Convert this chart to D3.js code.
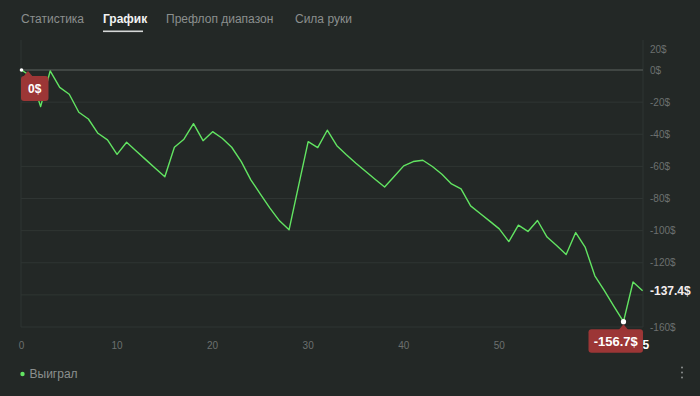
<!DOCTYPE html>
<html>
<head>
<meta charset="utf-8">
<script src="https://cdn.jsdelivr.net/npm/d3@7"></script>
<style>
  html, body { margin: 0; padding: 0; background: #232826; }
  svg { display: block; }
</style>
</head>
<body>
<div id="chart"></div>
<script>
// Data
let tabs = ["Статистика", "График", "Префлоп диапазон", "Сила руки"];
let activeTab = "График";
let values = [0, -4, -22.8, -0.6, -10.8, -15.1, -26.3, -30.5, -39.4, -43.5,
  -52.5, -45, -50.4, -55.8, -61.2, -66.5, -48.1, -43.1, -33.4, -44,
  -38.4, -42.5, -48.1, -57, -68.4, -77.3, -86, -93.9, -99.5, -72,
  -44.6, -48.3, -37.5, -47.1, -52.7, -58, -63, -68, -72.8, -66.3,
  -59.7, -57, -56.2, -60.1, -64.9, -70.9, -74, -84.6, -89.3, -94.1,
  -98.9, -106.8, -96.6, -100.5, -93.7, -104, -109.2, -114.9, -101.2, -110.5,
  -128.1, -137.4, -147.2, -156.7, -132, -137.4];
let yTicks = [20, 0, -20, -40, -60, -80, -100, -120, -140, -160];
let xTicks = [0, 10, 20, 30, 40, 50];
let seriesName = "Выиграл";

let width = 700, height = 396;
let plotTop = 40, plotLeft = 21, plotRight = 643;
let green = "#62e462", red = "#9c3636";
let uiFont = "Liberation Sans, Arial, sans-serif";

let svg = d3.select("#chart").append("svg")
    .attr("width", width)
    .attr("height", height);

// Tabs
let tabX = [21, 103, 166, 295];
svg.selectAll("text.tab")
  .data(tabs)
  .enter()
  .append("text")
  .attr("class", "tab")
  .attr("x", (d, i) => tabX[i])
  .attr("y", 23)
  .style("font-family", uiFont)
  .style("font-size", "12px")
  .style("font-weight", d => d == activeTab ? "bold" : "normal")
  .attr("fill", d => d == activeTab ? "#f2f2f2" : "#8b8f8e")
  .text(d => d);

svg.append("rect")
  .attr("x", 103).attr("y", 30.5)
  .attr("width", 40).attr("height", 1.6)
  .attr("fill", "#d6d8d7");

// Scales
let x = d3.scaleLinear().domain([0, values.length - 1]).range([21.5, 642.6]);
let y = d3.scaleLinear().domain([0, -160]).range([70, 327]);

// Grid
svg.selectAll("line.grid")
  .data(yTicks.filter(d => d < 0))
  .enter()
  .append("line")
  .attr("x1", plotLeft).attr("x2", plotRight)
  .attr("y1", d => y(d)).attr("y2", d => y(d))
  .attr("stroke", "#2f3533")
  .attr("stroke-width", 1);

// plot borders
[plotLeft, plotRight].forEach(px => {
  svg.append("line")
    .attr("x1", px).attr("x2", px)
    .attr("y1", plotTop).attr("y2", y(-160))
    .attr("stroke", "#2f3533");
});

// zero line
svg.append("line")
  .attr("x1", plotLeft).attr("x2", plotRight)
  .attr("y1", y(0)).attr("y2", y(0))
  .attr("stroke", "#4b504e")
  .attr("stroke-width", 1.6);

let last = values.length - 1;
let lastY = y(values[last]);

// Y labels (top one gets pushed inside the pane, one under the last value label is hidden)
svg.selectAll("text.ylab")
  .data(yTicks.filter(d => Math.abs(y(d) - lastY) > 10))
  .enter()
  .append("text")
  .attr("class", "ylab")
  .attr("x", 650)
  .attr("y", d => Math.max(y(d), plotTop + 9))
  .attr("dy", "0.35em")
  .style("font-family", uiFont)
  .style("font-size", "10px")
  .attr("fill", "#6c706f")
  .text(d => d + "$");

// X labels
svg.selectAll("text.xlab")
  .data(xTicks)
  .enter()
  .append("text")
  .attr("class", "xlab")
  .attr("x", d => x(d))
  .attr("y", 345)
  .attr("dy", "0.35em")
  .attr("text-anchor", "middle")
  .style("font-family", uiFont)
  .style("font-size", "10px")
  .attr("fill", "#6c706f")
  .text(d => d);

svg.append("text")
  .attr("x", x(last))
  .attr("y", 345)
  .attr("dy", "0.35em")
  .attr("text-anchor", "middle")
  .style("font-family", uiFont)
  .style("font-size", "12px")
  .style("font-weight", "bold")
  .attr("fill", "#ffffff")
  .text(last);

// Line
let line = d3.line()
    .x((d, i) => x(i))
    .y(d => y(d));

svg.append("path")
  .datum(values)
  .attr("d", line)
  .attr("fill", "none")
  .attr("stroke", green)
  .attr("stroke-width", 1.4)
  .attr("stroke-linejoin", "round");

// last value label
svg.append("text")
  .attr("x", 650)
  .attr("y", lastY)
  .attr("dy", "0.35em")
  .style("font-family", uiFont)
  .style("font-size", "12px")
  .style("font-weight", "bold")
  .attr("fill", "#f4eeee")
  .text(values[last] + "$");

// min marker + tooltip
let minI = d3.minIndex(values);
let mx = x(minI), my = y(values[minI]);

function tip(bx, by, w, h, ax, text, size) {
  let g = svg.append("g");
  g.append("rect")
    .attr("x", bx).attr("y", by)
    .attr("width", w).attr("height", h)
    .attr("rx", 3)
    .attr("fill", red);
  g.append("path")
    .attr("d", "M" + (ax - 5) + "," + (by + 1) + "L" + ax + "," + (by - 5) + "L" + (ax + 5) + "," + (by + 1) + "Z")
    .attr("fill", red);
  g.append("text")
    .attr("x", bx + w / 2)
    .attr("y", by + h / 2)
    .attr("dy", "0.36em")
    .attr("text-anchor", "middle")
    .style("font-family", uiFont)
    .style("font-size", size + "px")
    .style("font-weight", "bold")
    .attr("fill", "#ffffff")
    .text(text);
}

tip(mx - 35, my + 7.5, 54.5, 23.5, mx, values[minI] + "$", 13);
svg.append("circle")
  .attr("cx", mx).attr("cy", my).attr("r", 2.6)
  .attr("fill", "#ffffff");

// start marker + tooltip
tip(21, 76, 27.5, 25, 28, values[0] + "$", 12);
svg.append("circle")
  .attr("cx", x(0)).attr("cy", y(values[0])).attr("r", 1.8)
  .attr("fill", "#ffffff");

// Legend
svg.append("circle")
  .attr("cx", 22.5).attr("cy", 374).attr("r", 2.2)
  .attr("fill", green);
svg.append("text")
  .attr("x", 29.5).attr("y", 374)
  .attr("dy", "0.35em")
  .style("font-family", uiFont)
  .style("font-size", "12px")
  .attr("fill", "#8b8f8e")
  .text(seriesName);

// menu dots
[367.5, 372.5, 377.5].forEach(cy => {
  svg.append("circle")
    .attr("cx", 682).attr("cy", cy).attr("r", 1)
    .attr("fill", "#8b8f8e");
});
</script>
</body>
</html>
